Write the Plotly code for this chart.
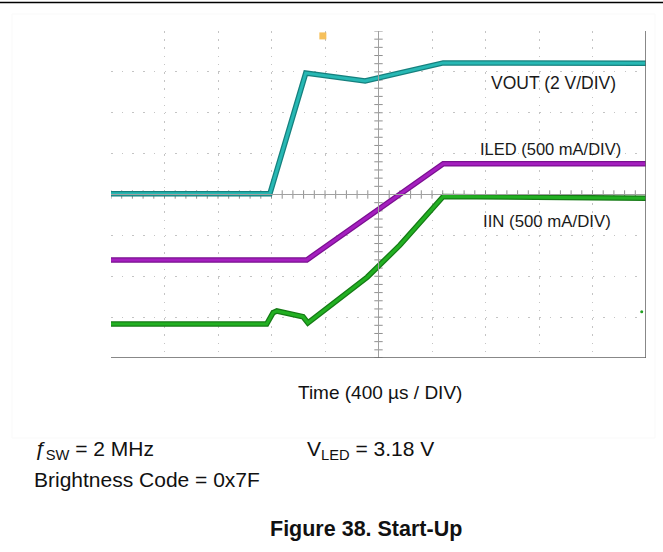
import numpy as np
import plotly.graph_objects as go

# ---- data (time in divisions, 400 us/div; amplitude in divisions) ----
vout_t = [0.0, 2.97, 3.64, 3.75, 4.75, 6.21, 10.0]
vout_v = [4.02, 4.02, 6.97, 6.95, 6.78, 7.22, 7.21]

iled_t = [0.0, 3.66, 6.21, 10.0]
iled_v = [2.40, 2.40, 4.75, 4.75]

iin_t = [0.0, 2.91, 3.03, 3.10, 3.59, 3.68, 4.79, 5.40, 6.21, 10.0]
iin_v = [0.83, 0.83, 1.11, 1.15, 1.01, 0.86, 1.98, 2.76, 3.95, 3.91]

labels = ["VOUT (2 V/DIV)", "ILED (500 mA/DIV)", "IIN (500 mA/DIV)"]
label_x = [8.28, 8.22, 8.15]
label_y = [6.73, 5.11, 3.33]
label_size = [17.5, 16.5, 16.8]

colors_main = ["#27b8b4", "#a51fbf", "#22b022"]
colors_edge = ["#16807e", "#7a1090", "#157a15"]

# ---- geometry ----
W, H = 663, 552
L, R, T, B = 111, 646, 31, 358
PW, PH = R - L, B - T


def px(x):
    return (x - L) / PW


def py(y):
    return (B - y) / PH


fig = go.Figure()

# center-line minor ticks (decoration)
tick_x = np.arange(0, 10.001, 0.2)
tick_y = np.arange(0, 8.001, 0.2)
fig.add_trace(go.Scatter(x=tick_x, y=[4] * len(tick_x), mode="markers",
                         marker=dict(symbol="line-ns", size=6, line=dict(color="#909090", width=1)),
                         hoverinfo="skip", showlegend=False))
fig.add_trace(go.Scatter(x=[5] * len(tick_y), y=tick_y, mode="markers",
                         marker=dict(symbol="line-ew", size=6, line=dict(color="#909090", width=1)),
                         hoverinfo="skip", showlegend=False))

series = [(vout_t, vout_v), (iled_t, iled_v), (iin_t, iin_v)]
for (t, v), cm, ce in zip(series, colors_main, colors_edge):
    fig.add_trace(go.Scatter(x=t, y=v, mode="lines", line=dict(color=ce, width=5.5),
                             hoverinfo="skip", showlegend=False))
    fig.add_trace(go.Scatter(x=t, y=v, mode="lines", line=dict(color=cm, width=3),
                             hoverinfo="skip", showlegend=False))

# channel ground marker (IIN) and trigger marker
fig.add_trace(go.Scatter(x=[9.92], y=[1.13], mode="markers",
                         marker=dict(symbol="circle", size=3, color="#22a022"),
                         hoverinfo="skip", showlegend=False, cliponaxis=False))
fig.add_trace(go.Scatter(x=[3.96, 3.96], y=[8.03, 7.88], mode="markers",
                         marker=dict(symbol=["triangle-down", "square"], size=[7, 7], color="#f2a516",
                                     line=dict(width=0)),
                         hoverinfo="skip", showlegend=False, cliponaxis=False))

for txt, x, y, s in zip(labels, label_x, label_y, label_size):
    fig.add_annotation(x=x, y=y, text=txt, showarrow=False, xanchor="center", yanchor="middle",
                       font=dict(family="Liberation Sans, Arial", size=s, color="#1a1a1a"))

# grid frame lines
shapes = [
    dict(type="line", xref="x", yref="y", x0=5, x1=5, y0=0, y1=8, line=dict(color="#a0a0a0", width=1)),
    dict(type="line", xref="x", yref="y", x0=0, x1=10, y0=4, y1=4, line=dict(color="#a0a0a0", width=1)),
    dict(type="line", xref="x", yref="y", x0=10, x1=10, y0=0, y1=8, line=dict(color="#606060", width=1.5)),
    dict(type="line", xref="x", yref="y", x0=0, x1=10, y0=0, y1=0, line=dict(color="#606060", width=1.5)),
    dict(type="line", xref="paper", yref="paper", x0=px(0), x1=px(W), y0=py(2.5), y1=py(2.5),
         line=dict(color="#000000", width=1.5)),
    dict(type="rect", xref="paper", yref="paper", x0=px(12), x1=px(655), y0=py(438), y1=py(14),
         line=dict(color="#f9f9f9", width=1)),
]

font = "Liberation Sans, Arial"
bottom = [
    ("Time (400 \u00b5s / DIV)", 380, 392, "center", 19),
    ("<i>\u0192</i><sub>SW</sub> = 2 MHz", 32, 450, "left", 21),
    ("V<sub>LED</sub> = 3.18 V", 305, 450, "left", 21),
    ("Brightness Code = 0x7F", 32, 479, "left", 21),
    ("<b>Figure 38. Start-Up</b>", 365.5, 529, "center", 21.5),
]
for txt, x, y, anc, sz in bottom:
    fig.add_annotation(xref="paper", yref="paper", x=px(x), y=py(y), text=txt, showarrow=False,
                       xanchor=anc, yanchor="middle",
                       font=dict(family=font, size=sz, color="#111111"))

fig.update_layout(
    width=W, height=H,
    margin=dict(l=L, r=W - R, t=T, b=H - B, pad=0),
    paper_bgcolor="white", plot_bgcolor="white",
    shapes=shapes,
    xaxis=dict(range=[0, 10], tickvals=list(range(0, 11)), showticklabels=False, ticks="",
               showgrid=True, gridcolor="#c4c4c4", griddash="1.5px,6.7px", gridwidth=1,
               zeroline=False, showline=False, fixedrange=True),
    yaxis=dict(range=[0, 8], tickvals=list(range(0, 9)), showticklabels=False, ticks="",
               showgrid=True, gridcolor="#c4c4c4", griddash="1.5px,9.2px", gridwidth=1,
               zeroline=False, showline=False, fixedrange=True),
)

fig.write_html("out.html", config={"displayModeBar": False},
               post_script="document.body.style.margin='0px';document.body.style.padding='0px';")
